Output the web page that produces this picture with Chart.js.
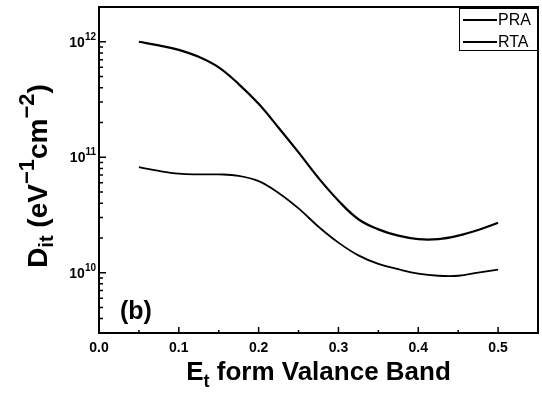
<!DOCTYPE html>
<html>
<head>
<meta charset="utf-8">
<script src="https://cdn.jsdelivr.net/npm/chart.js@4/dist/chart.umd.min.js"></script>
<style>
  body { margin: 0; background: #fff; }
  canvas { display: block; }
</style>
</head>
<body>
<canvas id="graficoDit" width="542" height="401"></canvas>
<script>
// Energia desde la banda de valencia (eV)
const energias = [0.05, 0.075, 0.1, 0.125, 0.15, 0.175, 0.2, 0.225, 0.25, 0.275,
                  0.3, 0.325, 0.35, 0.375, 0.4, 0.425, 0.45, 0.475, 0.5];
// Dit (eV^-1 cm^-2)
const ditPRA = [1.0e12, 9.3e11, 8.5e11, 7.4e11, 6.0e11, 4.3e11, 2.9e11, 1.8e11, 1.1e11, 6.6e10,
                4.2e10, 2.9e10, 2.37e10, 2.09e10, 1.95e10, 1.95e10, 2.09e10, 2.34e10, 2.7e10];
const ditRTA = [8.2e10, 7.6e10, 7.2e10, 7.1e10, 7.1e10, 6.9e10, 6.2e10, 4.9e10, 3.6e10, 2.5e10,
                1.82e10, 1.41e10, 1.19e10, 1.07e10, 9.8e9, 9.4e9, 9.4e9, 1.0e10, 1.06e10];
const etiquetas = ['PRA', 'RTA'];

const xTicks = [0.0, 0.1, 0.2, 0.3, 0.4, 0.5];
const xMinorTicks = [0.05, 0.15, 0.25, 0.35, 0.45];
const yTicks = [1e10, 1e11, 1e12];
const yTickExp = ['10', '11', '12'];

const FONT = "'Liberation Sans', Arial, Helvetica, sans-serif";

function drawRuns(ctx, runs, x, y, align) {
    let total = 0;
    runs.forEach(r => {
        ctx.font = 'bold ' + r.size + 'px ' + FONT;
        r.w = ctx.measureText(r.text).width;
        total += r.w;
    });
    let cx = align === 'center' ? x - total / 2 : (align === 'right' ? x - total : x);
    ctx.textAlign = 'left';
    ctx.textBaseline = 'alphabetic';
    runs.forEach(r => {
        ctx.font = 'bold ' + r.size + 'px ' + FONT;
        ctx.fillText(r.text, cx, y + (r.dy || 0));
        cx += r.w;
    });
}

const marcoPlugin = {
    id: 'marco',
    afterDraw(chart) {
        const ctx = chart.ctx;
        const a = chart.chartArea;
        const xs = chart.scales.x;
        const ys = chart.scales.y;
        ctx.save();
        ctx.fillStyle = '#000';
        ctx.strokeStyle = '#000';

        // ticks hacia adentro
        ctx.lineWidth = 1.5;
        ctx.beginPath();
        xTicks.forEach(v => {
            const px = xs.getPixelForValue(v);
            ctx.moveTo(px, a.bottom); ctx.lineTo(px, a.bottom - 6);
        });
        xMinorTicks.forEach(v => {
            const px = xs.getPixelForValue(v);
            ctx.moveTo(px, a.bottom); ctx.lineTo(px, a.bottom - 3);
        });
        for (let d = 9; d <= 12; d++) {
            for (let m = 1; m <= 9; m++) {
                const v = m * Math.pow(10, d);
                if (v < ys.min || v > ys.max) continue;
                const py = ys.getPixelForValue(v);
                ctx.moveTo(a.left, py); ctx.lineTo(a.left + (m === 1 ? 7 : 4), py);
            }
        }
        ctx.stroke();

        // marco
        ctx.lineWidth = 2;
        ctx.strokeRect(a.left, a.top, a.right - a.left, a.bottom - a.top);

        // etiquetas eje y (10^n)
        yTicks.forEach((v, i) => {
            const py = ys.getPixelForValue(v);
            drawRuns(ctx, [
                { text: '10', size: 14 },
                { text: yTickExp[i], size: 10, dy: -7 }
            ], a.left - 3, py + 5, 'right');
        });

        // titulo eje x
        drawRuns(ctx, [
            { text: 'E', size: 26 },
            { text: 't', size: 18, dy: 7 },
            { text: ' form Valance Band', size: 26 }
        ], (a.left + a.right) / 2, 380, 'center');

        // titulo eje y
        ctx.save();
        ctx.translate(47, 176);
        ctx.rotate(-Math.PI / 2);
        drawRuns(ctx, [
            { text: 'D', size: 28 },
            { text: 'it', size: 20, dy: 6 },
            { text: ' (eV', size: 28 },
            { text: '\u22121', size: 22, dy: -13 },
            { text: 'cm', size: 28 },
            { text: '\u22122', size: 22, dy: -13 },
            { text: ')', size: 28 }
        ], 0, 0, 'center');
        ctx.restore();

        // (b)
        drawRuns(ctx, [{ text: '(b)', size: 25 }], a.left + 21, a.bottom - 14, 'left');

        // leyenda
        const bw = 79, bh = 42;
        const bx = a.right - bw, by = a.top + 1;
        ctx.lineWidth = 1;
        ctx.strokeRect(bx + 0.5, by + 0.5, bw, bh);
        chart.data.datasets.forEach((ds, i) => {
            const ly = by + 12 + i * 22;
            ctx.lineWidth = ds.borderWidth;
            ctx.beginPath();
            ctx.moveTo(bx + 4, ly); ctx.lineTo(bx + 38, ly);
            ctx.stroke();
            ctx.font = '16px ' + FONT;
            ctx.textBaseline = 'middle';
            ctx.textAlign = 'left';
            ctx.fillText(ds.label, bx + 39, ly + 1);
        });
        ctx.restore();
    }
};

new Chart(document.getElementById('graficoDit'), {
    type: 'line',
    data: {
        labels: energias,
        datasets: [
            {
                label: etiquetas[0],
                data: energias.map((x, i) => ({ x: x, y: ditPRA[i] })),
                borderColor: '#000',
                borderWidth: 2.2,
                pointRadius: 0,
                fill: false,
                tension: 0.4
            },
            {
                label: etiquetas[1],
                data: energias.map((x, i) => ({ x: x, y: ditRTA[i] })),
                borderColor: '#000',
                borderWidth: 1.8,
                pointRadius: 0,
                fill: false,
                tension: 0.4
            }
        ]
    },
    options: {
        responsive: false,
        animation: false,
        layout: { padding: { top: 7, right: 4, left: 0, bottom: 0 } },
        plugins: {
            legend: { display: false },
            title: { display: false },
            tooltip: { enabled: false }
        },
        scales: {
            x: {
                type: 'linear',
                min: 0,
                max: 0.55,
                grid: { display: false, drawTicks: false },
                border: { display: false },
                afterBuildTicks: s => { s.ticks = xTicks.map(v => ({ value: v })); },
                afterFit: s => { s.height = 68; },
                ticks: {
                    padding: 7,
                    color: '#000',
                    font: { family: FONT, size: 14, weight: 'bold' },
                    callback: v => v.toFixed(1)
                }
            },
            y: {
                type: 'logarithmic',
                min: 3e9,
                max: 2e12,
                grid: { display: false, drawTicks: false },
                border: { display: false },
                afterFit: s => { s.width = 99; },
                ticks: { display: false }
            }
        }
    },
    plugins: [marcoPlugin]
});
</script>
</body>
</html>
